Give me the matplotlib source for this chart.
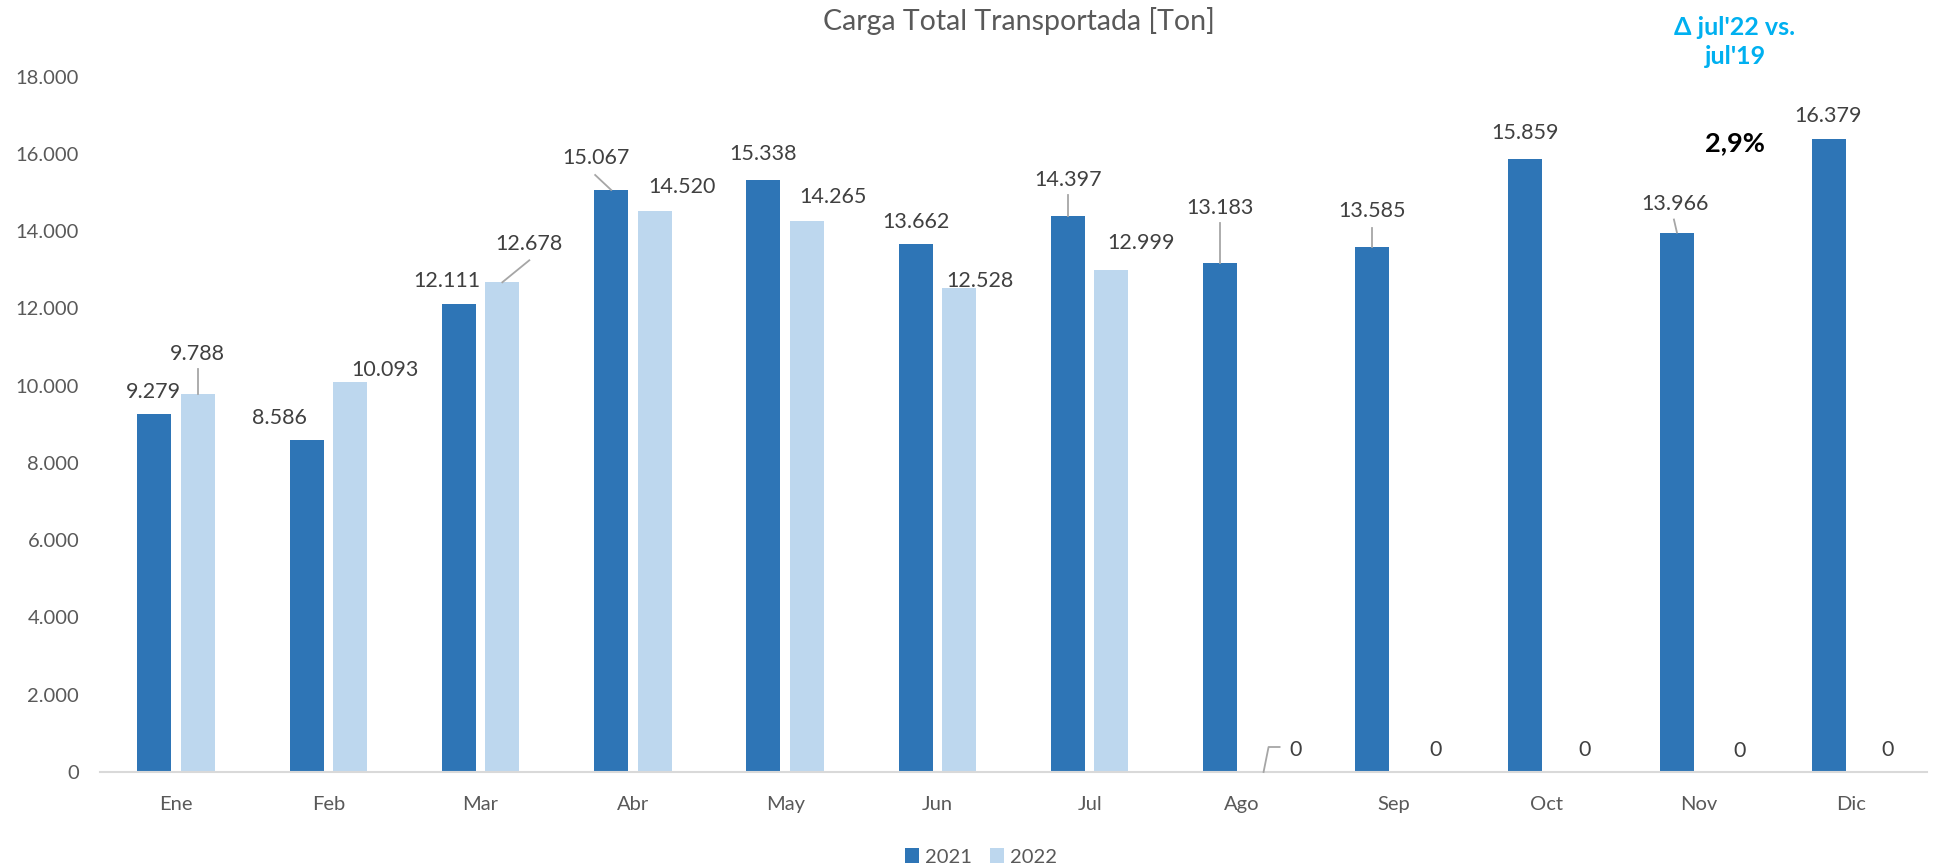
import matplotlib
matplotlib.use("Agg")
import matplotlib.pyplot as plt
from matplotlib.patches import Patch
from matplotlib.lines import Line2D
import numpy as np

# ---- data ----
months = ["Ene", "Feb", "Mar", "Abr", "May", "Jun", "Jul", "Ago", "Sep", "Oct", "Nov", "Dic"]
carga_2021 = [9279, 8586, 12111, 15067, 15338, 13662, 14397, 13183, 13585, 15859, 13966, 16379]
carga_2022 = [9788, 10093, 12678, 14520, 14265, 12528, 12999, 0, 0, 0, 0, 0]
y_ticks = [0, 2000, 4000, 6000, 8000, 10000, 12000, 14000, 16000, 18000]
title = "Carga Total Transportada [Ton]"
delta_title = "\u0394 jul'22 vs.\njul'19"
delta_value = "2,9%"

# ---- label placement (pixel offsets of each label centre from its bar top) ----
lab_off_2021 = [(-1, 23), (-27, 24), (-12, 25), (-15, 34), (0, 27), (0, 24),
                (0, 38), (0, 57), (0, 38), (0, 28), (-2, 30), (-1, 25)]
lab_off_2022 = [(0, 42), (35, 14), (27, 40), (27, 26), (26, 26), (21, 9),
                (30, 29), (32, 24), (20, 24), (16, 24), (19, 23), (15, 24)]
# leader lines: (series, month index, list of pixel offsets from the bar top)
leaders = [
    (1, 0, [(0, 0), (0, 25)]),
    (1, 2, [(0, 0), (27, 22)]),
    (0, 3, [(0, 0), (-16, 15)]),
    (0, 6, [(0, 0), (0, 21)]),
    (0, 7, [(0, 0), (0, 40)]),
    (0, 8, [(0, 0), (0, 19)]),
    (0, 10, [(0, 0), (-3, 13)]),
    (1, 7, [(0, 0), (5, 25), (16, 25)]),
]

C2021 = "#2E75B6"
C2022 = "#BDD7EE"
TXT = "#404040"
TICK = "#595959"
LEAD = "#A6A6A6"
FONT = "Lato"

plt.rcParams["font.family"] = [FONT, "DejaVu Sans"]

W, H = 1935, 868
fig = plt.figure(figsize=(W / 100, H / 100), dpi=100)
ax_left, ax_right, ax_bottom, ax_top = 100, 1927, 772, 76.7
ax = fig.add_axes([ax_left / W, 1 - ax_bottom / H,
                   (ax_right - ax_left) / W, (ax_bottom - ax_top) / H])

x = np.arange(len(months))
off = 0.1425
bw = 0.223
ax.bar(x - off, carga_2021, width=bw, color=C2021, zorder=2)
ax.bar(x + off, carga_2022, width=bw, color=C2022, zorder=2)

ax.set_xlim(-0.5, len(months) - 0.5)
ax.set_ylim(0, 18000)
ax.set_yticks(y_ticks)
ax.set_yticklabels([f"{v:,}".replace(",", ".") for v in y_ticks])
ax.set_xticks(x)
ax.set_xticklabels(months)
ax.tick_params(axis="y", length=0, pad=15, labelsize=14.5, labelcolor=TICK)
ax.tick_params(axis="x", length=0, pad=17.5, labelsize=14.5, labelcolor=TICK)
for s in ["left", "right", "top"]:
    ax.spines[s].set_visible(False)
ax.spines["bottom"].set_color("#D9D9D9")
ax.spines["bottom"].set_linewidth(1.5)

fig.canvas.draw()
to_disp = ax.transData.transform

def fmt(v):
    return f"{v:,}".replace(",", ".")

series = [carga_2021, carga_2022]
offsets = [lab_off_2021, lab_off_2022]
xshift = [-off, off]
digit_half = 7.8
for si in range(2):
    for i, v in enumerate(series[si]):
        dx, dy = offsets[si][i]
        ax.annotate(fmt(v), xy=(x[i] + xshift[si], v), xycoords="data",
                    xytext=(dx, dy - digit_half), textcoords="offset pixels",
                    ha="center", va="baseline", fontsize=15.5, color=TXT,
                    zorder=4)

for si, i, pts in leaders:
    bx, by = to_disp((x[i] + xshift[si], series[si][i]))
    xs = [bx + p[0] for p in pts]
    ys = [by + p[1] for p in pts]
    fig.add_artist(Line2D(xs, ys, transform=None, color=LEAD, lw=1.3, zorder=3))

fig.text(1019 / W, 1 - 21 / H, title, ha="center", va="center",
         fontsize=20.5, color=TICK)
fig.text(1735 / W, 1 - 42 / H, delta_title, ha="center", va="center",
         fontsize=18, color="#00B0F0", fontweight="bold", linespacing=1.35)
fig.text(1735 / W, 1 - 143 / H, delta_value, ha="center", va="center",
         fontsize=19.5, color="black", fontweight="bold")

handles = [Patch(facecolor=C2021, edgecolor="none", label="2021"),
           Patch(facecolor=C2022, edgecolor="none", label="2022")]
fig.legend(handles=handles, loc="center", bbox_to_anchor=(981 / W, 1 - 857 / H),
           ncol=2, frameon=False, fontsize=14.5, labelcolor=TICK,
           handlelength=0.7, handleheight=0.7, handletextpad=0.3,
           columnspacing=0.9, borderpad=0, borderaxespad=0)

fig.savefig("out.png", dpi=100)
